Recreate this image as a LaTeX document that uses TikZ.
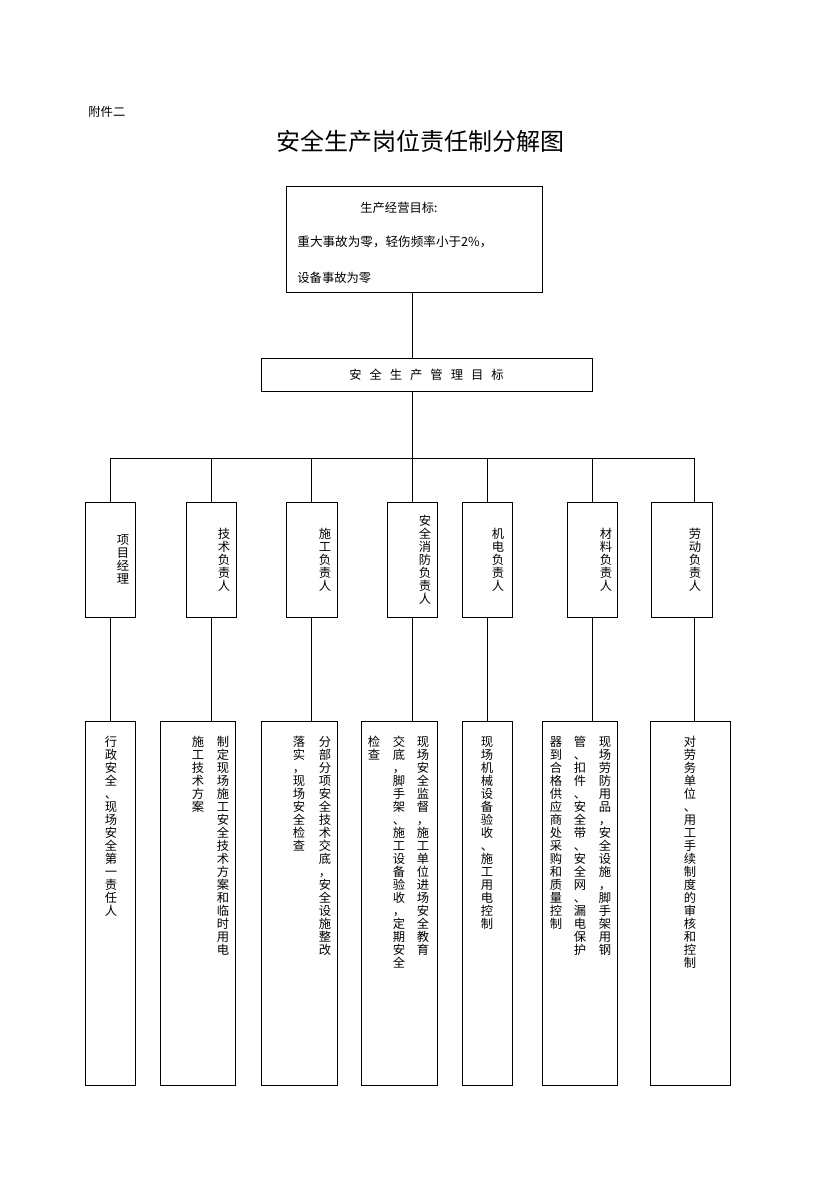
\documentclass[tikz,border=0pt]{standalone}
\usepackage{fontspec}
\setmainfont{Noto Sans CJK SC}
\usetikzlibrary{positioning, calc}

% characters stacked top to bottom, one column
\let\vstackend\relax
\newcommand\vstack[1]{\vtop{\baselineskip=13pt\lineskiplimit=-20pt\lineskip=0pt\vstackloop#1\vstackend}}
\def\vstackloop#1{\ifx#1\vstackend\else\hbox to 12pt{\hss#1\hss}\expandafter\vstackloop\fi}

\begin{document}
\begin{tikzpicture}[x=1pt, y=-1pt, line width=0.8pt, font=\fontsize{12.3}{13}\selectfont,
    box/.style={draw, inner sep=0pt},
    rolebox/.style={box, minimum width=50pt, minimum height=115pt},
    dutybox/.style={box, minimum height=364pt},
    vtext/.style={inner sep=0pt}]
    \useasboundingbox (0,0) rectangle (838,1186);

    \node[anchor=west, inner sep=0pt] (annex) at (88,112) {附件二};
    \node[inner sep=0pt, font=\fontsize{24}{24}\selectfont] (title) at (420,141) {安全生产岗位责任制分解图};

    \node[box, minimum width=256pt, minimum height=106pt] (goal) at (414,239) {};
    \node[inner sep=0pt] (goal1) at (399,208) {生产经营目标:};
    \node[anchor=west, inner sep=0pt, font=\fontsize{12.6}{13}\selectfont] (goal2) at (297,242) {重大事故为零，轻伤频率小于2\%，};
    \node[anchor=west, inner sep=0pt] (goal3) at (297,278) {设备事故为零};

    \node[box, minimum width=331pt, minimum height=33pt] (mgmt) at (426.5,374.5) {安\hspace{8pt}全\hspace{8pt}生\hspace{8pt}产\hspace{8pt}管\hspace{8pt}理\hspace{8pt}目\hspace{8pt}标};

    % roles
    \node[rolebox] (r1) at (110,559.5) {};
    \node[rolebox] (r2) at (211,559.5) {};
    \node[rolebox, minimum width=51pt] (r3) at (311.5,559.5) {};
    \node[rolebox] (r4) at (412,559.5) {};
    \node[rolebox] (r5) at (487,559.5) {};
    \node[rolebox] (r6) at (592,559.5) {};
    \node[rolebox, minimum width=61pt] (r7) at (681.5,559.5) {};

    \node[vtext] (r1t) at (123,559.5) {\vstack{项目经理}};
    \node[vtext] (r2t) at (224,559.5) {\vstack{技术负责人}};
    \node[vtext] (r3t) at (325,559.5) {\vstack{施工负责人}};
    \node[vtext] (r4t) at (425,559.5) {\vstack{安全消防负责人}};
    \node[vtext] (r5t) at (498,559.5) {\vstack{机电负责人}};
    \node[vtext] (r6t) at (606,559.5) {\vstack{材料负责人}};
    \node[vtext] (r7t) at (695,559.5) {\vstack{劳动负责人}};

    % duties
    \node[dutybox, minimum width=50pt] (d1) at (110,903) {};
    \node[dutybox, minimum width=75pt] (d2) at (197.5,903) {};
    \node[dutybox, minimum width=76pt] (d3) at (299,903) {};
    \node[dutybox, minimum width=76pt] (d4) at (399,903) {};
    \node[dutybox, minimum width=50pt] (d5) at (487,903) {};
    \node[dutybox, minimum width=75pt] (d6) at (579.5,903) {};
    \node[dutybox, minimum width=80pt] (d7) at (690,903) {};

    \node[vtext, anchor=north] (d1a) at (111,736) {\vstack{行政安全、现场安全第一责任人}};
    \node[vtext, anchor=north] (d2a) at (223,736) {\vstack{制定现场施工安全技术方案和临时用电}};
    \node[vtext, anchor=north] (d2b) at (198,736) {\vstack{施工技术方案}};
    \node[vtext, anchor=north] (d3a) at (325,736) {\vstack{分部分项安全技术交底，安全设施整改}};
    \node[vtext, anchor=north] (d3b) at (299,736) {\vstack{落实，现场安全检查}};
    \node[vtext, anchor=north] (d4a) at (423,736) {\vstack{现场安全监督，施工单位进场安全教育}};
    \node[vtext, anchor=north] (d4b) at (399,736) {\vstack{交底，脚手架、施工设备验收，定期安全}};
    \node[vtext, anchor=north] (d4c) at (374,736) {\vstack{检查}};
    \node[vtext, anchor=north] (d5a) at (487,736) {\vstack{现场机械设备验收、施工用电控制}};
    \node[vtext, anchor=north] (d6a) at (605,736) {\vstack{现场劳防用品，安全设施，脚手架用钢}};
    \node[vtext, anchor=north] (d6b) at (580,736) {\vstack{管、扣件、安全带、安全网、漏电保护}};
    \node[vtext, anchor=north] (d6c) at (556,736) {\vstack{器到合格供应商处采购和质量控制}};
    \node[vtext, anchor=north] (d7a) at (690,736) {\vstack{对劳务单位、用工手续制度的审核和控制}};

    \coordinate (trunk) at (412,458);
    \draw (goal.south -| trunk) -- (mgmt.north -| trunk);
    \draw (mgmt.south -| trunk) -- (trunk);
    \foreach \i/\x in {1/110, 2/211, 3/311, 4/412, 5/487, 6/592, 7/694} {
        \coordinate (drop\i) at (\x,458);
        \draw (drop\i) -- (drop\i |- r\i.north);
        \draw (drop\i |- r\i.south) -- (drop\i |- d\i.north);
    };
    \draw (drop1) -- (drop7);
\end{tikzpicture}
\end{document}
